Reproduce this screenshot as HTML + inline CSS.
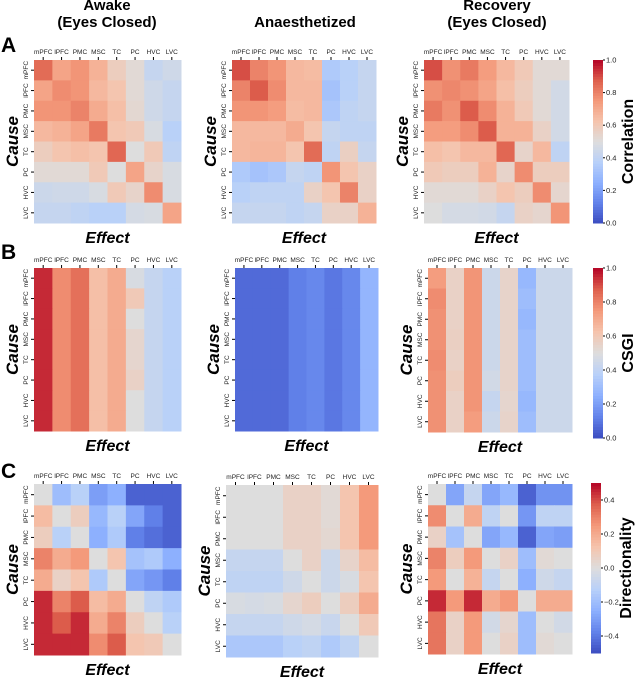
<!DOCTYPE html>
<html><head><meta charset="utf-8">
<style>
html,body{margin:0;padding:0;background:#fff;}
svg{display:block;font-family:"Liberation Sans",sans-serif;}
</style></head>
<body>
<svg id="fig" width="640" height="677" viewBox="0 0 640 677"></svg>
<script>
const regions = ["mPFC","lPFC","PMC","MSC","TC","PC","HVC","LVC"];
const cbTicksA = [0,0.2,0.4,0.6,0.8,1.0];
const cbTicksB = [0,0.2,0.4,0.6,0.8,1.0];
const cbTicksC = [-0.4,-0.2,0,0.2,0.4];
const corrAwake = [
[.85,.72,.76,.68,.58,.52,.42,.45],
[.72,.78,.76,.66,.62,.52,.45,.42],
[.76,.76,.80,.70,.64,.53,.45,.42],
[.66,.68,.72,.82,.62,.60,.48,.38],
[.58,.62,.64,.62,.86,.50,.60,.40],
[.52,.52,.52,.60,.50,.72,.55,.48],
[.44,.45,.45,.48,.60,.55,.78,.48],
[.42,.42,.40,.38,.38,.47,.48,.72]];
const corrAnaes = [
[.90,.80,.76,.66,.65,.35,.38,.42],
[.80,.88,.78,.66,.66,.32,.38,.42],
[.76,.76,.74,.65,.66,.34,.40,.42],
[.66,.66,.66,.70,.62,.42,.40,.40],
[.66,.67,.67,.62,.85,.40,.57,.42],
[.35,.32,.34,.42,.40,.76,.62,.56],
[.38,.40,.40,.40,.56,.62,.80,.56],
[.42,.42,.42,.40,.42,.56,.56,.68]];
const corrRecov = [
[.90,.77,.82,.74,.66,.60,.52,.52],
[.77,.79,.77,.72,.64,.58,.52,.46],
[.82,.77,.88,.78,.68,.60,.52,.46],
[.74,.74,.78,.88,.68,.68,.56,.46],
[.64,.62,.66,.66,.86,.55,.66,.40],
[.60,.58,.58,.68,.55,.78,.58,.58],
[.52,.52,.52,.56,.62,.58,.78,.54],
[.50,.47,.47,.46,.42,.56,.54,.76]];
const csgiAwake = [
[.95,.78,.84,.64,.70,.48,.42,.38],
[.95,.78,.84,.64,.70,.60,.42,.38],
[.95,.78,.84,.64,.70,.50,.42,.38],
[.95,.78,.84,.64,.70,.54,.42,.38],
[.95,.78,.84,.64,.70,.54,.42,.38],
[.95,.78,.84,.64,.70,.56,.42,.38],
[.95,.78,.84,.64,.70,.50,.42,.38],
[.95,.78,.84,.64,.70,.50,.42,.38]];
const csgiAnaes = [
[.07,.07,.07,.12,.14,.10,.14,.27],
[.07,.07,.07,.12,.14,.10,.14,.27],
[.07,.07,.07,.12,.14,.10,.14,.27],
[.07,.07,.07,.12,.14,.10,.14,.27],
[.07,.07,.07,.12,.14,.10,.14,.27],
[.07,.07,.07,.12,.14,.10,.14,.27],
[.07,.07,.07,.12,.14,.10,.14,.27],
[.07,.07,.07,.12,.14,.10,.14,.27]];
const csgiRecov = [
[.74,.56,.76,.44,.55,.28,.44,.44],
[.78,.56,.76,.44,.55,.30,.44,.44],
[.77,.56,.76,.44,.55,.28,.44,.44],
[.77,.57,.76,.44,.55,.30,.44,.44],
[.78,.56,.76,.44,.55,.30,.44,.44],
[.77,.58,.76,.46,.55,.30,.44,.44],
[.77,.56,.76,.42,.54,.28,.44,.44],
[.77,.56,.74,.44,.55,.30,.44,.44]];
const dirAwake = [
[0,-.2,-.12,-.3,-.25,-.45,-.45,-.45],
[.15,0,.08,-.22,-.12,-.28,-.38,-.45],
[.08,-.12,0,-.25,-.15,-.38,-.42,-.45],
[.3,.2,.25,0,.12,-.18,-.15,-.25],
[.2,.06,.12,-.15,0,-.28,-.32,-.38],
[.45,.3,.38,.15,.2,0,-.1,-.15],
[.45,.38,.45,.2,.3,.08,0,-.12],
[.45,.45,.45,.28,.38,.12,.1,0]];
const dirAnaes = [
[0,0,0,.06,.06,.02,.12,.25],
[0,0,0,.06,.06,.02,.12,.25],
[0,0,0,.06,.06,.03,.12,.25],
[-.08,-.08,-.08,0,.06,-.06,.05,.15],
[-.1,-.1,-.1,-.05,0,-.06,-.02,.12],
[-.02,-.03,-.02,.04,.08,0,.08,.2],
[-.08,-.08,-.08,-.05,-.03,-.07,0,.1],
[-.16,-.16,-.16,-.12,-.1,-.15,-.1,0]];
const dirRecov = [
[0,-.28,-.08,-.28,-.22,-.45,-.33,-.33],
[.28,0,.2,-.1,0,-.32,-.1,-.1],
[.06,-.18,0,-.28,-.22,-.45,-.28,-.3],
[.3,.08,.25,0,.06,-.2,.02,0],
[.25,0,.18,-.08,0,-.25,-.05,-.08],
[.45,.25,.45,.2,.25,0,.2,.2],
[.33,.06,.25,-.04,.04,-.2,0,-.04],
[.33,.06,.25,0,.06,-.2,.02,0]];

const NS="http://www.w3.org/2000/svg";
const svg=document.getElementById('fig');
function el(tag,attrs,parent){const e=document.createElementNS(NS,tag);for(const k in attrs)e.setAttribute(k,attrs[k]);(parent||svg).appendChild(e);return e;}
const cmStops=[[59,76,192],[98,130,234],[141,176,254],[184,208,249],[221,221,221],[245,196,173],[244,154,123],[222,96,77],[180,4,38]];
function cmap(t){t=Math.max(0,Math.min(1,t));const f=t*8;const i=Math.min(7,Math.floor(f));const r=f-i;const a=cmStops[i],b=cmStops[i+1];
return `rgb(${Math.round(a[0]+(b[0]-a[0])*r)},${Math.round(a[1]+(b[1]-a[1])*r)},${Math.round(a[2]+(b[2]-a[2])*r)})`;}

function heatmap(data,x0,y0,w,h,vmin,vmax,name){
  const g=el('g',{});
  
  
  const cw=w/8,ch=h/8;
  const xs=i=>x0+i*cw, ys=j=>y0+j*ch;
  data.forEach((row,j)=>row.forEach((v,i)=>{
    const r=el('rect',{x:xs(i),y:ys(j),width:cw+0.5,height:ch+0.5,fill:cmap((v-vmin)/(vmax-vmin))},g);
    
    
  }));
  regions.forEach((lab,i)=>{
    const t=el('text',{x:xs(i)+cw/2,y:y0-6,'font-size':6.5,'text-anchor':'middle',fill:'#222'},g);t.textContent=lab;
    
    
    el('line',{x1:xs(i)+cw/2,x2:xs(i)+cw/2,y1:y0-3,y2:y0,stroke:'#000','stroke-width':1},g);
    const cy=ys(i)+ch/2;
    const t2=el('text',{x:x0-6,y:cy,'font-size':6.5,'text-anchor':'middle',fill:'#222',transform:`rotate(-90 ${x0-6} ${cy})`},g);t2.textContent=lab;
    
    
    el('line',{x1:x0-3,x2:x0,y1:cy,y2:cy,stroke:'#000','stroke-width':1},g);
  });
  const ef=el('text',{x:x0+w/2,y:y0+h+20,'font-size':16,'font-weight':'bold','font-style':'italic','text-anchor':'middle'},g);ef.textContent='Effect';
  
  
  const cx=x0-16, cy=y0+h/2;
  const ca=el('text',{x:cx,y:cy,'font-size':17,'font-weight':'bold','font-style':'italic','text-anchor':'middle',transform:`rotate(-90 ${cx} ${cy})`},g);ca.textContent='Cause';
  
  
}
function colorbar(x0,y0,w,h,vmin,vmax,ticks,label,name){
  const g=el('g',{});
  
  
  const n=60;
  for(let k=0;k<n;k++){el('rect',{x:x0,y:y0+h-(k+1)*h/n,width:w,height:h/n+0.5,fill:cmap((k+0.5)/n)},g);}
  ticks.forEach(t=>{const y=y0+h-(t-vmin)/(vmax-vmin)*h;
    el('line',{x1:x0+w,x2:x0+w+2,y1:y,y2:y,stroke:'#000'},g);
    const tx=el('text',{x:x0+w+3,y:y+2.5,'font-size':7.5,fill:'#222'},g);tx.textContent=(t<0?'\u2212'+Math.abs(t).toFixed(1):t.toFixed(1));
    
    });
  const lx=x0+40, ly=y0+h/2;
  const lt=el('text',{x:lx,y:ly,'font-size':16,'font-weight':'bold','text-anchor':'middle',transform:`rotate(-90 ${lx} ${ly})`},g);lt.textContent=label;
  
  
}
function title(x,lines,name){const t=el('text',{x:x,'font-size':15,'font-weight':'bold','text-anchor':'middle'});
  
  
  lines.forEach((l,i)=>{const s=el('tspan',{x:x,y:(lines.length===1?27:10+i*17)},t);s.textContent=l;});}
title(107,["Awake","(Eyes Closed)"],'title-awake');
title(305,["Anaesthetized"],'title-anaesthetized');
title(497,["Recovery","(Eyes Closed)"],'title-recovery');
[['A',52],['B',259],['C',478]].forEach(([l,y])=>{const t=el('text',{x:1,y:y,'font-size':21,'font-weight':'bold'});t.textContent=l;
  
  });
heatmap(corrAwake,34,60,147,163,0,1,'heatmap-corr-awake');
heatmap(corrAnaes,232,60,144,163,0,1,'heatmap-corr-anaesthetized');
heatmap(corrRecov,424,60,145,163,0,1,'heatmap-corr-recovery');
colorbar(593,60,10,163,0,1,cbTicksA,'Correlation','colorbar-correlation');
heatmap(csgiAwake,34,268,147,163,0,1,'heatmap-csgi-awake');
heatmap(csgiAnaes,235,268,143,163,0,1,'heatmap-csgi-anaesthetized');
heatmap(csgiRecov,428,268,144,164,0,1,'heatmap-csgi-recovery');
colorbar(593,268,10,170,0,1,cbTicksB,'CSGI','colorbar-csgi');
heatmap(dirAwake,34,484,147,171,-0.5,0.5,'heatmap-dir-awake');
heatmap(dirAnaes,226,485,152,172,-0.5,0.5,'heatmap-dir-anaesthetized');
heatmap(dirRecov,428,484,144,170,-0.5,0.5,'heatmap-dir-recovery');
colorbar(591,483,10,170,-0.5,0.5,cbTicksC,'Directionality','colorbar-directionality');
</script>
</body></html>
